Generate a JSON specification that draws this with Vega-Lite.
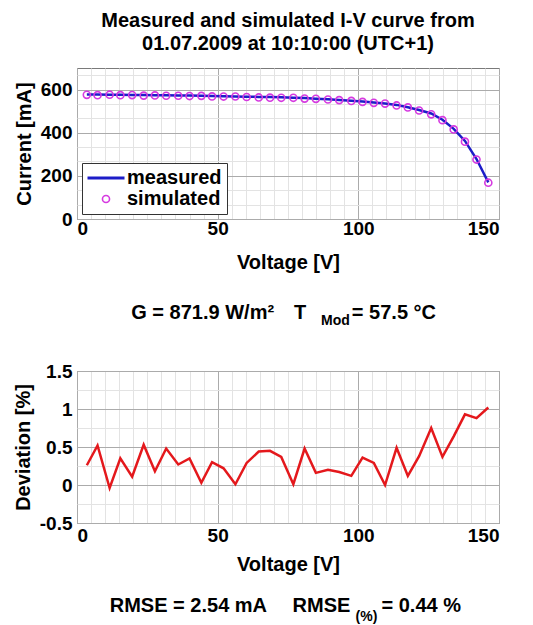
{
  "$schema": "https://vega.github.io/schema/vega-lite/v6.json",
  "background": "white",
  "padding": {"left": 12, "top": 10, "right": 10, "bottom": 5},
  "config": {
    "font": "Liberation Sans",
    "view": {"stroke": "#7a7a7a", "strokeWidth": 1},
    "axis": {
      "labelFont": "Liberation Sans", "labelFontWeight": "bold", "labelFontSize": 19, "labelColor": "black",
      "titleFont": "Liberation Sans", "titleFontWeight": "bold", "titleFontSize": 20, "titleColor": "black",
      "domain": false, "ticks": false, "grid": true, "gridWidth": 1, "labelPadding": 5, "titlePadding": 6,
      "labelOverlap": false, "tickCount": 100
    },
    "title": {
      "font": "Liberation Sans", "fontWeight": "bold", "fontSize": 20, "color": "black",
      "subtitleFont": "Liberation Sans", "subtitleFontWeight": "bold", "subtitleFontSize": 14, "subtitleColor": "black"
    }
  },
  "datasets": {
    "iv": [
      {"V": 3.5, "measured": 577, "simulated": 575.5, "dev": 0.26},
      {"V": 7.3, "measured": 577, "simulated": 574.0, "dev": 0.52},
      {"V": 11.6, "measured": 576, "simulated": 576.2, "dev": -0.04},
      {"V": 15.4, "measured": 576, "simulated": 574.0, "dev": 0.35},
      {"V": 19.6, "measured": 575, "simulated": 574.4, "dev": 0.11},
      {"V": 23.7, "measured": 575, "simulated": 572.0, "dev": 0.53},
      {"V": 27.7, "measured": 574, "simulated": 573.0, "dev": 0.18},
      {"V": 31.7, "measured": 574, "simulated": 571.2, "dev": 0.48},
      {"V": 36.0, "measured": 573, "simulated": 571.5, "dev": 0.27},
      {"V": 40.0, "measured": 572, "simulated": 570.0, "dev": 0.35},
      {"V": 44.2, "measured": 571, "simulated": 570.8, "dev": 0.03},
      {"V": 48.0, "measured": 570, "simulated": 568.3, "dev": 0.30},
      {"V": 52.1, "measured": 569, "simulated": 567.7, "dev": 0.22},
      {"V": 56.3, "measured": 568, "simulated": 567.9, "dev": 0.01},
      {"V": 60.3, "measured": 567, "simulated": 565.4, "dev": 0.29},
      {"V": 64.6, "measured": 566, "simulated": 563.5, "dev": 0.44},
      {"V": 68.6, "measured": 565, "simulated": 562.5, "dev": 0.45},
      {"V": 72.6, "measured": 564, "simulated": 561.9, "dev": 0.37},
      {"V": 76.9, "measured": 562, "simulated": 561.9, "dev": 0.01},
      {"V": 80.9, "measured": 561, "simulated": 558.3, "dev": 0.48},
      {"V": 84.9, "measured": 558, "simulated": 557.1, "dev": 0.16},
      {"V": 89.2, "measured": 555, "simulated": 553.9, "dev": 0.20},
      {"V": 93.2, "measured": 552, "simulated": 551.1, "dev": 0.17},
      {"V": 97.5, "measured": 548, "simulated": 547.3, "dev": 0.12},
      {"V": 101.5, "measured": 545, "simulated": 543.0, "dev": 0.36},
      {"V": 105.5, "measured": 540, "simulated": 538.4, "dev": 0.29},
      {"V": 109.5, "measured": 535, "simulated": 535.0, "dev": 0.00},
      {"V": 113.6, "measured": 529, "simulated": 526.4, "dev": 0.49},
      {"V": 117.6, "measured": 518, "simulated": 517.4, "dev": 0.12},
      {"V": 121.6, "measured": 505, "simulated": 503.1, "dev": 0.38},
      {"V": 125.9, "measured": 489, "simulated": 485.3, "dev": 0.75},
      {"V": 129.9, "measured": 460, "simulated": 458.3, "dev": 0.37},
      {"V": 133.9, "measured": 418, "simulated": 415.3, "dev": 0.64},
      {"V": 137.9, "measured": 362, "simulated": 358.6, "dev": 0.93},
      {"V": 142.0, "measured": 278, "simulated": 275.6, "dev": 0.88},
      {"V": 146.2, "measured": 170, "simulated": 168.3, "dev": 1.02}
    ]
  },
  "title": {
    "text": "RMSE = 2.54 mA\u2003\u00a0RMSE\u2003\u00a0 = 0.44 %",
    "subtitle": "\u200b\u2003\u2003\u2003\u2003\u2003\u2003\u2003\u2003\u2003\u2003\u2003\u2003\u2003\u2003\u2003\u2003\u2003\u00a0\u00a0(%)",
    "orient": "bottom", "anchor": "start", "dx": 97, "offset": 21, "subtitlePadding": -6
  },
  "resolve": {"scale": {"color": "independent"}, "legend": {"color": "independent"}},
  "spacing": 29,
  "vconcat": [
    {
      "width": 422, "height": 151,
      "title": {
        "text": ["Measured and simulated I-V curve from", "01.07.2009 at 10:10:00 (UTC+1)"],
        "anchor": "middle", "lineHeight": 23, "offset": 12
      },
      "data": {"name": "iv"},
      "transform": [{"fold": ["measured", "simulated"], "as": ["series", "I"]}],
      "encoding": {
        "x": {
          "field": "V", "type": "quantitative", "title": "Voltage [V]",
          "scale": {"domain": [0, 150], "nice": false},
          "axis": {
            "values": [0,5,10,15,20,25,30,35,40,45,50,55,60,65,70,75,80,85,90,95,100,105,110,115,120,125,130,135,140,145,150],
            "labelExpr": "datum.value % 50 === 0 ? '' + datum.value : ''",
            "gridColor": {"condition": {"test": "datum.value % 50 === 0", "value": "#ababab"}, "value": "#e3e3e3"},
            "labelPadding": 0, "titlePadding": 14
          }
        },
        "y": {
          "field": "I", "type": "quantitative", "title": "Current [mA]",
          "scale": {"domain": [0, 700], "nice": false},
          "axis": {
            "values": [0, 66.667, 133.333, 200, 266.667, 333.333, 400, 466.667, 533.333, 600, 666.667],
            "labelExpr": "datum.value % 200 === 0 ? '' + datum.value : ''",
            "gridColor": {"condition": {"test": "datum.value % 200 === 0", "value": "#ababab"}, "value": "#e3e3e3"}
          }
        },
        "color": {
          "field": "series", "type": "nominal",
          "scale": {"domain": ["measured", "simulated"], "range": ["#1c1cc8", "#d63ae0"]},
          "legend": {
            "orient": "bottom-left", "title": null, "offset": 5, "padding": 5,
            "strokeColor": "#333333", "fillColor": "white",
            "labelFont": "Liberation Sans", "labelFontSize": 20, "labelFontWeight": "bold", "labelColor": "black",
            "symbolSize": 400, "labelOffset": 11, "symbolOffset": 9, "rowPadding": 1,
            "encode": {
              "symbols": {
                "update": {
                  "shape": {"signal": "datum.value === 'measured' ? 'stroke' : 'circle'"},
                  "size": {"signal": "datum.value === 'measured' ? 1369 : 50"},
                  "strokeWidth": {"signal": "datum.value === 'measured' ? 3 : 1.6"},
                  "fill": {"value": "transparent"},
                  "stroke": {"signal": "datum.value === 'measured' ? '#1c1cc8' : '#d63ae0'"},
                  "opacity": {"value": 1}
                }
              }
            }
          }
        }
      },
      "layer": [
        {
          "transform": [{"filter": "datum.series === 'measured'"}],
          "mark": {"type": "line", "strokeWidth": 2.5}
        },
        {
          "transform": [{"filter": "datum.series === 'simulated'"}],
          "mark": {"type": "point", "filled": false, "size": 50, "strokeWidth": 1.6, "opacity": 1}
        }
      ]
    },
    {
      "width": 422, "height": 152,
      "title": {
        "text": "G = 871.9 W/m\u00b2\u2003T\u2003\u2003 = 57.5 \u00b0C",
        "subtitle": "\u200b\u2003\u2003\u2003\u2003\u2003\u2003\u2003\u2003\u2003\u2003\u2003\u2003\u2003\u00a0\u00a0Mod",
        "anchor": "start", "dx": 118, "offset": 34, "subtitlePadding": -9
      },
      "data": {"name": "iv"},
      "mark": {"type": "line", "color": "#e4181c", "strokeWidth": 2.5},
      "encoding": {
        "x": {
          "field": "V", "type": "quantitative", "title": "Voltage [V]",
          "scale": {"domain": [0, 150], "nice": false},
          "axis": {
            "values": [0,5,10,15,20,25,30,35,40,45,50,55,60,65,70,75,80,85,90,95,100,105,110,115,120,125,130,135,140,145,150],
            "labelExpr": "datum.value % 50 === 0 ? '' + datum.value : ''",
            "gridColor": {"condition": {"test": "datum.value % 50 === 0", "value": "#ababab"}, "value": "#e3e3e3"},
            "labelPadding": 3, "titlePadding": 9
          }
        },
        "y": {
          "field": "dev", "type": "quantitative", "title": "Deviation [%]",
          "scale": {"domain": [-0.5, 1.5], "nice": false},
          "axis": {
            "values": [-0.5, -0.25, 0, 0.25, 0.5, 0.75, 1, 1.25, 1.5],
            "labelExpr": "datum.value % 0.5 === 0 ? '' + datum.value : ''",
            "gridColor": {"condition": {"test": "datum.value % 0.5 === 0", "value": "#ababab"}, "value": "#e3e3e3"}
          }
        }
      }
    }
  ]
}
